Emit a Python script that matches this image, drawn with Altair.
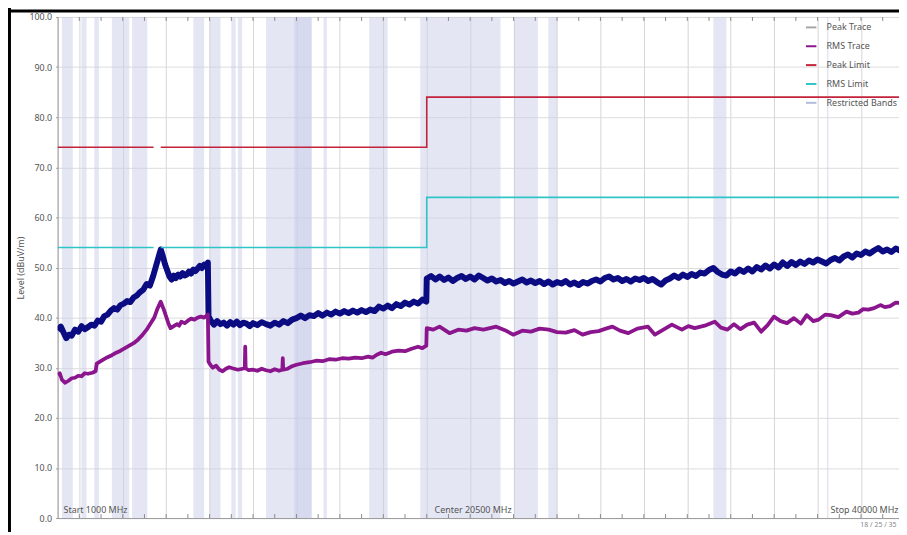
import altair as alt
import pandas as pd

FONT = "Noto Sans"

# ---------------- data ----------------
# Restricted bands (MHz)
band_start = [1200, 2100, 2690, 3500, 4430, 7250, 8000, 9000, 9300, 10600, 11900, 13250, 15350, 17700, 22010, 23600, 31200, 36430]
band_end   = [1700, 2330, 2900, 4300, 5130, 7750, 8500, 9200, 9500, 12700, 12700, 13400, 16200, 21400, 23120, 24000, 31800, 36500]

# Peak trace (MHz, dBuV/m)
peak_f = [1000, 1150, 1300, 1400, 1520, 1650, 1800, 1950, 2100, 2250, 2400, 2550, 2700, 2850, 3000, 3150,
          3300, 3450, 3600, 3750, 3900, 4050, 4200, 4350, 4500, 4650, 4800, 4950, 5100, 5250, 5400, 5750,
          5850, 5950, 6050, 6150, 6250, 6350, 6450, 6550, 6650, 6750, 6850, 6950, 7050, 7150, 7250, 7350,
          7450, 7550, 7650, 7750, 7850, 7920, 7950, 8050, 8200, 8350, 8500, 8650, 8800, 8950, 9100, 9250,
          9400, 9550, 9700, 9850, 10000, 10200, 10400, 10600, 10800, 11000, 11200, 11400, 11600, 11800,
          12000, 12200, 12400, 12600, 12800, 13000, 13200, 13400, 13600, 13800, 14000, 14200, 14400, 14600,
          14800, 15000, 15200, 15400, 15600, 15800, 16000, 16200, 16400, 16600, 16800, 17000, 17200, 17400,
          17600, 17800, 17980, 18000, 18200, 18400, 18600, 18800, 19000, 19200, 19400, 19600, 19800, 20000,
          20200, 20400, 20600, 20800, 21000, 21200, 21400, 21600, 21800, 22000, 22200, 22400, 22600, 22800,
          23000, 23200, 23400, 23600, 23800, 24000, 24200, 24400, 24600, 24800, 25000, 25200, 25400, 25600,
          25800, 26000, 26200, 26400, 26600, 26800, 27000, 27200, 27400, 27600, 27800, 28000, 28200, 28400,
          28600, 28800, 29000, 29200, 29400, 29600, 29800, 30000, 30200, 30400, 30600, 30800, 31000, 31200,
          31400, 31600, 31800, 32000, 32200, 32400, 32600, 32800, 33000, 33200, 33400, 33600, 33800, 34000,
          34200, 34400, 34600, 34800, 35000, 35200, 35400, 35600, 35800, 36000, 36200, 36400, 36600, 36800,
          37000, 37200, 37400, 37600, 37800, 38000, 38200, 38400, 38600, 38800, 39000, 39200, 39400, 39600,
          39800, 40000]
peak_v = [37.5, 38.2, 36.8, 35.9, 36.6, 36.4, 37.6, 37.2, 38.3, 37.7, 38.1, 38.6, 38.4, 39.4, 39.2, 40.3,
          40.6, 41.4, 41.9, 41.6, 42.5, 42.8, 43.3, 43.1, 44.0, 44.4, 45.1, 45.6, 46.7, 46.4, 48.3, 53.6,
          52.2, 50.6, 49.4, 48.2, 47.6, 48.4, 47.9, 48.6, 48.2, 48.9, 48.4, 48.6, 49.2, 48.8, 49.6, 49.3,
          49.8, 50.3, 49.9, 50.6, 50.4, 51.0, 40.3, 39.4, 38.6, 39.3, 38.7, 39.0, 38.4, 39.1, 38.6, 39.2,
          38.5, 39.0, 38.8, 38.3, 38.9, 38.5, 39.1, 38.7, 38.4, 39.0, 38.6, 39.3,
          38.9, 39.6, 39.9, 40.4, 39.9, 40.5, 40.3, 40.9, 40.4, 41.0, 40.6, 41.2, 40.8, 41.3, 40.9, 41.4,
          41.0, 41.5, 41.1, 41.6, 41.3, 42.2, 41.8, 42.4, 41.9, 42.7, 42.3, 43.0, 42.6, 43.2,
          42.8, 43.6, 43.2, 47.8, 48.3, 47.6, 48.2, 47.5, 48.0, 47.3, 47.9, 48.3, 47.7, 48.2,
          47.6, 48.4, 47.9, 47.4, 47.8, 47.2, 47.5, 46.9, 47.3, 46.8, 47.2, 47.6, 47.0, 47.4,
          46.9, 47.3, 46.7, 47.2, 46.6, 47.1, 46.8, 47.3, 46.6, 47.0, 46.5, 47.1, 46.8, 47.3,
          47.6, 47.2, 47.9, 48.2, 47.6, 47.9, 47.3, 47.7, 47.2, 47.8, 47.5, 47.9, 47.3, 47.7,
          47.1, 46.6, 47.4, 47.8, 48.4, 47.9, 48.6, 48.1, 48.7, 48.3, 49.0, 48.8, 49.5, 49.9,
          49.1, 48.6, 48.4, 49.2, 48.8, 49.6, 49.1, 49.8, 49.2, 50.1, 49.6, 50.4, 49.8, 50.6,
          50.0, 51.0, 50.3, 51.1, 50.5, 51.2, 50.7, 51.4, 51.0, 51.6, 51.2, 50.8, 51.5, 51.9,
          51.4, 52.2, 52.6, 52.0, 52.8, 52.5, 53.2, 52.8, 53.4, 53.9, 53.2, 53.6, 53.1, 53.8,
          53.4, 53.6]

# RMS trace (MHz, dBuV/m)
rms_f = [1000, 1100, 1200, 1350, 1500, 1650, 1800, 1950, 2100, 2250, 2400, 2600, 2750, 2800, 2950, 3100,
         3300, 3500, 3700, 3900, 4100, 4300, 4500, 4700, 4900, 5100, 5300, 5450, 5600, 5750, 5900, 6000,
         6100, 6200, 6350, 6500, 6600, 6700, 6850, 7000, 7150, 7300, 7450, 7600, 7750, 7920, 7950, 8050,
         8150, 8300, 8450, 8600, 8750, 8900, 9050, 9300, 9620, 9640, 9660, 9800, 10000, 10200, 10400, 10600,
         10800, 11000, 11200, 11350, 11370, 11390, 11600, 11800, 12000, 12300, 12600, 12900, 13200, 13500,
         13800, 14100, 14400, 14700, 15000, 15300, 15500, 15700, 15900, 16100, 16400, 16700, 17000, 17300,
         17600, 17800, 17980, 18000, 18300, 18590, 19050, 19450, 19830, 20200, 20610, 21200, 21600, 21980,
         22400, 22800, 23200, 23620, 24000, 24400, 24800, 25180, 25550, 25910, 26250, 26550, 26900, 27280,
         27700, 28190, 28510, 28900, 29290, 29750, 30050, 30340, 30800, 31260, 31550, 31850, 32150, 32450,
         32760, 33080, 33400, 33700, 33990, 34300, 34590, 34910, 35230, 35500, 35800, 36050, 36350, 36600,
         36960, 37330, 37600, 37880, 38100, 38340, 38600, 38890, 39100, 39340, 39600, 39800, 40000]
rms_v = [28.6, 28.9, 27.6, 27.0, 27.4, 27.9, 28.0, 28.4, 28.3, 28.9, 28.8, 29.0, 29.3, 30.8, 31.2, 31.6,
         32.1, 32.5, 33.0, 33.4, 33.9, 34.4, 34.9, 35.6, 36.5, 37.6, 39.0, 40.0, 41.8, 43.2, 41.5, 40.2,
         38.9, 37.9, 38.3, 38.7, 38.4, 39.2, 38.9, 39.4, 39.8, 39.6, 40.0, 40.2, 40.0, 40.6, 31.2, 30.5,
         30.0, 30.4, 29.6, 29.3, 29.8, 30.1, 29.9, 29.6, 29.9, 34.2, 29.9, 29.5, 29.6, 29.4, 29.8, 29.5,
         29.3, 29.7, 29.4, 29.6, 31.9, 29.6, 29.8, 30.3, 30.6, 30.9, 31.1, 31.4, 31.3, 31.7,
         31.6, 31.9, 31.8, 32.0, 31.9, 32.2, 32.0, 32.6, 33.0, 32.7, 33.2, 33.4, 33.3, 33.8,
         34.2, 33.9, 34.4, 37.9, 37.6, 38.2, 36.9, 37.6, 37.4, 37.9, 37.6, 38.2, 37.5, 36.6,
         37.4, 37.2, 37.8, 37.6, 37.1, 37.0, 37.5, 36.6, 37.1, 37.3, 37.8, 38.2, 37.4, 36.9,
         37.8, 38.2, 36.6, 37.6, 38.6, 37.6, 38.3, 37.9, 38.4, 39.2, 38.0, 37.6, 38.7, 37.7,
         38.6, 39.0, 37.2, 38.5, 40.2, 39.3, 38.9, 39.9, 38.8, 40.5, 39.3, 39.6, 40.6, 40.5,
         40.1, 41.2, 40.8, 41.0, 41.7, 41.6, 41.9, 42.5, 42.1, 42.3, 43.0, 42.9, 42.7]

# Limits (MHz, dBuV/m), two segments each (gap near 5.5 GHz)
lim_f   = [1000, 5420, 5750, 18000, 18000, 40000]
lim_seg = [0, 0, 1, 1, 1, 1]
peak_lim_v = [74, 74, 74, 74, 84, 84]
rms_lim_v  = [54, 54, 54, 54, 64, 64]

grid_mhz = list(range(2000, 40001, 2000))
tick_mhz = list(range(2000, 40000, 1000))
y_ticks = list(range(0, 101, 10))

legend_names = ["Peak Trace", "RMS Trace", "Peak Limit", "RMS Limit", "Restricted Bands"]
legend_colors = ["#a6a6a6", "#8a158c", "#c3233a", "#2fc4c6", "#b3bbdd"]

marker_f = [1000, 20500, 40000]
marker_text = ["Start 1000 MHz", "Center 20500 MHz", "Stop 40000 MHz"]

# ---------------- frames ----------------
bands_df = pd.DataFrame({"start": band_start, "end": band_end})
peak_df = pd.DataFrame({"f": peak_f, "v": peak_v, "i": range(len(peak_f))})
rms_df = pd.DataFrame({"f": rms_f, "v": rms_v, "i": range(len(rms_f)), "series": "RMS Trace"})
lim_df = pd.concat([
    pd.DataFrame({"f": lim_f, "v": peak_lim_v, "seg": lim_seg, "i": range(6), "series": "Peak Limit"}),
    pd.DataFrame({"f": lim_f, "v": rms_lim_v, "seg": lim_seg, "i": range(6), "series": "RMS Limit"}),
])
ticks_df = pd.DataFrame({"f": tick_mhz})
marker_df = pd.DataFrame({"f": marker_f, "text": marker_text})
one = pd.DataFrame({"a": [0]})

W, H = 848, 505
xscale = alt.Scale(domain=[1000, 39750], nice=False, zero=False)
yscale = alt.Scale(domain=[0, 100], nice=False, zero=False)

x_axis = alt.Axis(values=grid_mhz, labels=False, ticks=False, title=None, grid=True,
                  gridColor="#d6d6d6", gridWidth=1, domainColor="#9a9a9a")
y_axis = alt.Axis(values=y_ticks, format=".1f", title="Level (dBuV/m)", grid=True,
                  gridColor="#dcdcdc", tickSize=2, tickColor="#999", labelFontSize=9,
                  labelColor="#555", labelPadding=4, labelFont=FONT, titleFont=FONT,
                  titleFontSize=9, titleFontWeight="normal", titleColor="#555",
                  titlePadding=3, domainColor="#9a9a9a")

X = alt.X("f:Q", scale=xscale, axis=x_axis)
Y = alt.Y("v:Q", scale=yscale, axis=y_axis)

stroke_enc = alt.Stroke(
    "series:N",
    scale=alt.Scale(domain=legend_names, range=legend_colors),
    legend=alt.Legend(title=None, orient="none", legendX=753, legendY=4,
                      symbolType="stroke", symbolSize=110, symbolStrokeWidth=2,
                      labelFontSize=9, labelColor="#555", labelFont=FONT,
                      rowPadding=7, labelOffset=9),
)

bands = alt.Chart(bands_df).mark_rect(color="#c9cde9", opacity=0.5).encode(
    x=alt.X("start:Q", scale=xscale, axis=x_axis), x2="end:Q")

peak = alt.Chart(peak_df).mark_line(color="#0c0c82", strokeWidth=6, clip=True,
                                    strokeJoin="round").encode(
    x=X, y=Y, order="i:Q")

rms = alt.Chart(rms_df).mark_line(strokeWidth=3.8, clip=True, strokeJoin="round").encode(
    x=X, y=Y, order="i:Q", stroke=stroke_enc)

limits = alt.Chart(lim_df).mark_line(strokeWidth=1.6, clip=True).encode(
    x=X, y=Y, order="i:Q", detail="seg:N", stroke=stroke_enc)

ticks_bottom = alt.Chart(ticks_df).mark_rule(color="#8a8a8a", strokeWidth=1).encode(
    x=alt.X("f:Q", scale=xscale), y=alt.value(H - 4), y2=alt.value(H))
ticks_top = alt.Chart(ticks_df).mark_rule(color="#8a8a8a", strokeWidth=1).encode(
    x=alt.X("f:Q", scale=xscale), y=alt.value(0), y2=alt.value(4))

txt_kw = dict(font=FONT, fontSize=9, color="#555", baseline="alphabetic")
m_start = alt.Chart(marker_df.iloc[[0]]).mark_text(align="left", dx=6, **txt_kw).encode(
    x=alt.X("f:Q", scale=xscale), y=alt.value(H - 5), text="text:N")
m_center = alt.Chart(marker_df.iloc[[1]]).mark_text(align="center", dx=-8, **txt_kw).encode(
    x=alt.X("f:Q", scale=xscale), y=alt.value(H - 5), text="text:N")
m_stop = alt.Chart(marker_df.iloc[[2]]).mark_text(align="right", dx=-6, **txt_kw).encode(
    x=alt.X("f:Q", scale=xscale), y=alt.value(H - 5), text="text:N")

footer = alt.Chart(one).mark_text(align="left", font=FONT, fontSize=7, color="#888",
                                  baseline="alphabetic").encode(
    x=alt.value(809), y=alt.value(H + 9), text=alt.value("18 / 25 / 35"))

frame_left = alt.Chart(one).mark_rule(color="black", strokeWidth=3).encode(
    x=alt.value(-48.5), y=alt.value(-10), y2=alt.value(H + 20))
frame_top = alt.Chart(one).mark_rule(color="black", strokeWidth=3).encode(
    x=alt.value(-50), x2=alt.value(W + 5), y=alt.value(-6))

chart = alt.layer(
    bands, peak, rms, limits, ticks_bottom, ticks_top,
    m_start, m_center, m_stop, footer, frame_left, frame_top
).properties(
    width=W, height=H,
    autosize=alt.AutoSizeParams(type="none"),
    padding={"left": 50, "top": 7, "right": 0, "bottom": 12},
).configure_view(stroke="#a0a0a0", strokeWidth=1).configure(font=FONT)

chart.save("out.html", embed_options={"renderer": "svg", "actions": False})
